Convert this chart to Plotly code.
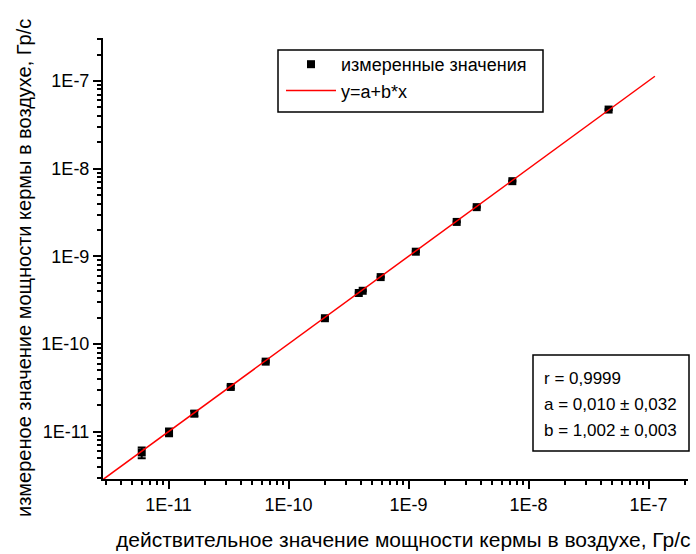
import plotly.graph_objects as go

# ---- data ----
actual_rate = [5.98e-12, 1.01e-11, 1.64e-11, 3.30e-11, 6.45e-11, 2.01e-10, 3.85e-10,
               4.15e-10, 5.86e-10, 1.15e-9, 2.52e-9, 3.70e-9, 7.33e-9, 4.65e-8]
measured_rate = [5.8e-12, 0.99e-11, 1.61e-11, 3.24e-11, 6.3e-11, 1.97e-10, 3.82e-10,
                 4.05e-10, 5.8e-10, 1.13e-9, 2.47e-9, 3.64e-9, 7.2e-9, 4.72e-8]
measured_err = [0.8e-12, 1.0e-12, 1.1e-12, 1.3e-12, 1.5e-12, 3e-12, 5e-12,
                5e-12, 7e-12, 1.2e-11, 2.5e-11, 3.5e-11, 7e-11, 4e-10]

fit_a = 0.0            # intercept (negligible on this scale)
fit_b = 1.002          # slope
fit_x = [2.85e-12, 1.13e-7]
fit_y = [fit_a + fit_b * v for v in fit_x]

tick_vals = [1e-11, 1e-10, 1e-9, 1e-8, 1e-7]
tick_text = ["1E-11", "1E-10", "1E-9", "1E-8", "1E-7"]

stats_lines = ["r = 0,9999", "a = 0,010 ± 0,032", "b = 1,002 ± 0,003"]
legend_names = ["измеренные значения", "y=a+b*x"]
x_title = "действительное значение мощности кермы в воздухе, Гр/с"
y_title = "измереное значение мощности кермы в воздухе, Гр/с"

FONT = "Liberation Sans, Arial, sans-serif"

minor_vals = [m * 10.0 ** e for e in range(-13, -5) for m in range(2, 10)]

W, H = 696, 554
L, R, T, B = 103, 8, 38, 75
pw, ph = W - L - R, H - T - B


def px_to_paper_x(px):
    return (px - L) / pw


def px_to_paper_y(py):
    return (H - B - py) / ph


fig = go.Figure()
fig.add_trace(go.Scatter(
    x=actual_rate, y=measured_rate, mode="markers", name=legend_names[0],
    marker=dict(symbol="square", size=8, color="black"),
    error_y=dict(type="data", array=measured_err, visible=True,
                 color="black", thickness=2, width=4),
))
fig.add_trace(go.Scatter(
    x=fit_x, y=fit_y, mode="lines", name=legend_names[1],
    line=dict(color="#ff0000", width=1.5),
))

axis_common = dict(
    type="log", showgrid=False, zeroline=False,
    showline=True, linecolor="black", linewidth=2,
    ticks="outside", ticklen=8, tickwidth=1.5, tickcolor="black",
    tickmode="array", tickvals=tick_vals, ticktext=tick_text,
    tickfont=dict(family=FONT, size=18, color="black"),
    minor=dict(ticks="outside", ticklen=4, tickwidth=1.5, tickcolor="black",
               tickmode="array", tickvals=minor_vals, showgrid=False),
    mirror=False,
)

fig.update_xaxes(range=[-11.546, -6.671], **axis_common)
fig.update_yaxes(range=[-11.539, -6.51], **axis_common)

# axis titles
fig.add_annotation(xref="paper", yref="paper", x=px_to_paper_x(403), y=px_to_paper_y(553),
                   xanchor="center", yanchor="bottom", text=x_title, showarrow=False,
                   font=dict(family=FONT, size=21, color="black"))
fig.add_annotation(xref="paper", yref="paper", x=px_to_paper_x(24), y=px_to_paper_y(268),
                   xanchor="center", yanchor="middle", text=y_title, showarrow=False,
                   textangle=-90, font=dict(family=FONT, size=20, color="black"))

# legend frame
fig.add_shape(type="rect", xref="paper", yref="paper",
              x0=px_to_paper_x(278), x1=px_to_paper_x(543),
              y0=px_to_paper_y(112), y1=px_to_paper_y(50),
              line=dict(color="black", width=1.5), fillcolor="white", layer="below")

# statistics box
box = dict(x0=533, x1=689, y0=355, y1=451)
fig.add_shape(type="rect", xref="paper", yref="paper",
              x0=px_to_paper_x(box["x0"]), x1=px_to_paper_x(box["x1"]),
              y0=px_to_paper_y(box["y1"]), y1=px_to_paper_y(box["y0"]),
              line=dict(color="black", width=1.5), fillcolor="white", layer="above")
for i, s in enumerate(stats_lines):
    fig.add_annotation(xref="paper", yref="paper", x=px_to_paper_x(542),
                       y=px_to_paper_y(378 + 26 * i), xanchor="left", yanchor="middle",
                       text=s, showarrow=False,
                       font=dict(family=FONT, size=17, color="black"))

fig.update_layout(
    width=W, height=H,
    margin=dict(l=L, r=R, t=T, b=B),
    paper_bgcolor="white", plot_bgcolor="white",
    font=dict(family=FONT, size=18, color="black"),
    legend=dict(x=px_to_paper_x(281), y=px_to_paper_y(46), xanchor="left", yanchor="top",
                borderwidth=0, bgcolor="rgba(0,0,0,0)",
                font=dict(family=FONT, size=18, color="black"),
                itemwidth=50, tracegroupgap=0),
    showlegend=True,
)

fig.write_html("out.html", config={"displayModeBar": False},
               post_script="document.body.style.margin='0px';document.body.style.overflow='hidden';")
